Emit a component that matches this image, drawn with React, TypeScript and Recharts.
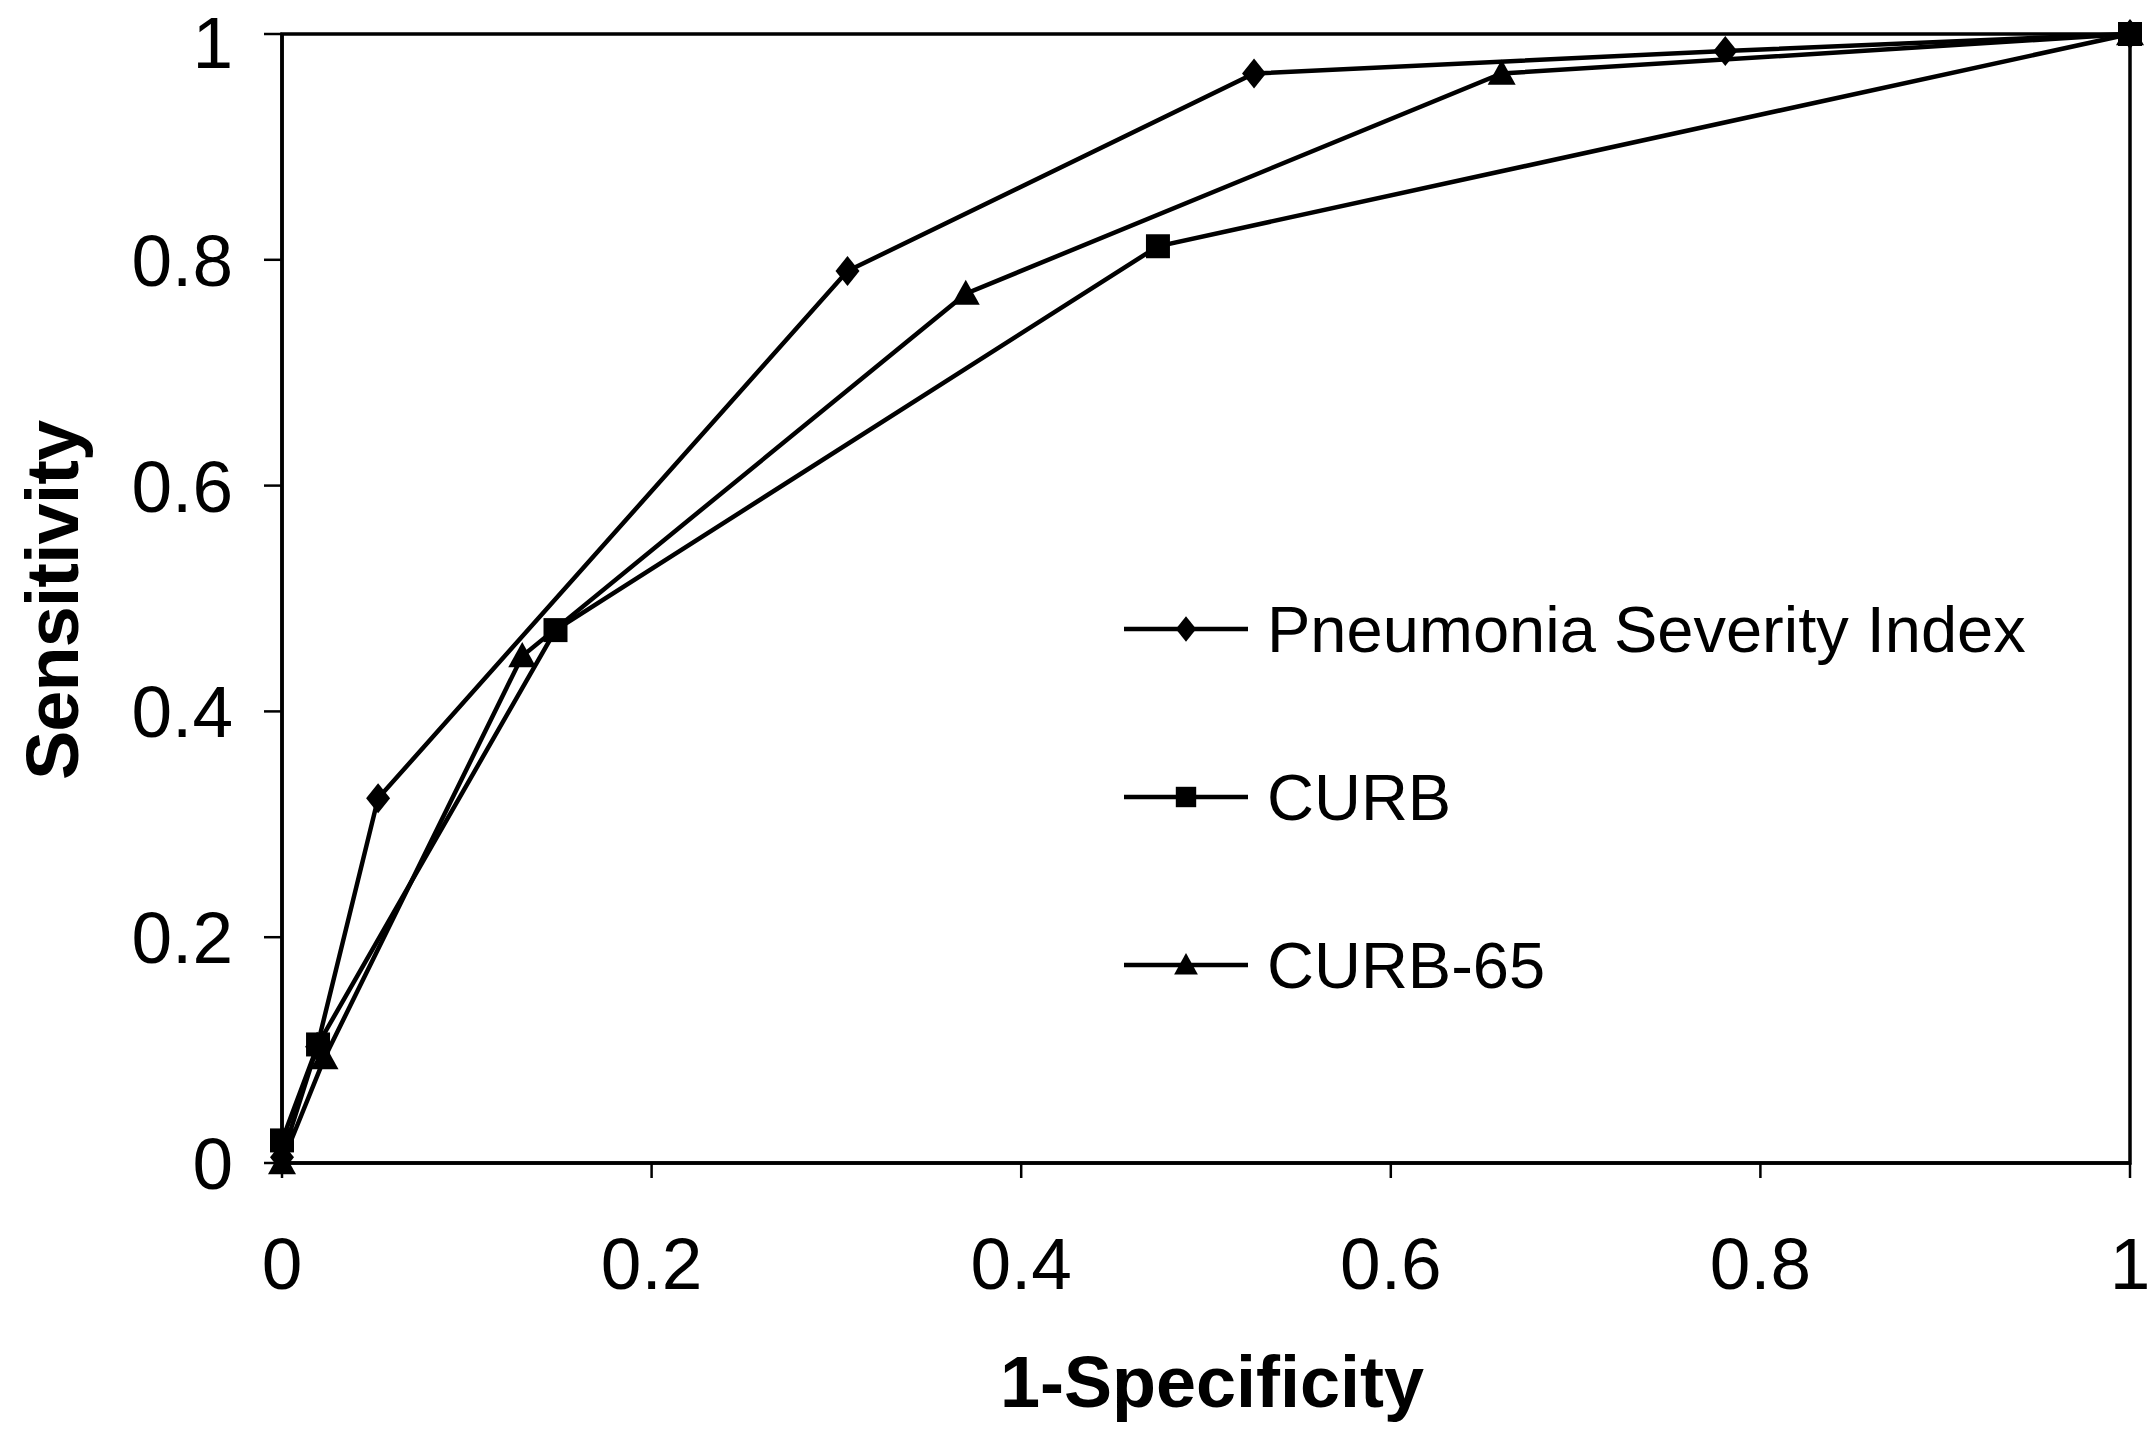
import { Legend, Line, LineChart, ReferenceArea, XAxis, YAxis } from "recharts";

const FONT = "'Liberation Sans', Arial, sans-serif";
const INK = "#000";

const X_TICKS = [0, 0.2, 0.4, 0.6, 0.8, 1];
const Y_TICKS = [0, 0.2, 0.4, 0.6, 0.8, 1];

// Pneumonia Severity Index
const psiX = [0, 0.019, 0.052, 0.306, 0.526, 0.781, 1];
const psiY = [0.005, 0.103, 0.323, 0.79, 0.965, 0.985, 1];
// CURB
const curbX = [0, 0.0195, 0.148, 0.474, 1];
const curbY = [0.02, 0.105, 0.472, 0.812, 1];
// CURB-65
const curb65X = [0, 0.023, 0.13, 0.37, 0.66, 1];
const curb65Y = [0, 0.093, 0.449, 0.77, 0.965, 1];

const toPoints = (xs: number[], ys: number[]) => xs.map((x, i) => ({ x, y: ys[i] }));

const diamondPath = (cx: number, cy: number, w: number, h: number) =>
  `M${cx},${cy - h}L${cx + w},${cy}L${cx},${cy + h}L${cx - w},${cy}Z`;
const squarePath = (cx: number, cy: number, s: number) =>
  `M${cx - s},${cy - s}H${cx + s}V${cy + s}H${cx - s}Z`;
const trianglePath = (cx: number, cy: number, w: number, h: number) =>
  `M${cx},${cy - h}L${cx + w},${cy + h * 0.8}L${cx - w},${cy + h * 0.8}Z`;

const shapes: Record<string, (cx: number, cy: number, k: number) => string> = {
  psi: (cx, cy, k) => diamondPath(cx, cy, 12 * k, 15 * k),
  curb: (cx, cy, k) => squarePath(cx, cy, 12 * k),
  curb65: (cx, cy, k) => trianglePath(cx, cy, 14 * k, 14 * k),
};

const makeDot = (kind: string) => (p: any) => (
  <path key={`${kind}-${p.index}`} d={shapes[kind](p.cx, p.cy, 1)} fill={INK} />
);

const series = [
  { key: "psi", name: "Pneumonia Severity Index", data: toPoints(psiX, psiY) },
  { key: "curb", name: "CURB", data: toPoints(curbX, curbY) },
  { key: "curb65", name: "CURB-65", data: toPoints(curb65X, curb65Y) },
];

const renderLegend = () => (
  <div style={{ fontFamily: FONT }}>
    {series.map((s) => (
      <div key={s.key} style={{ display: "flex", alignItems: "center", height: 168 }}>
        <svg width={124} height={40} style={{ marginRight: 19 }}>
          <line x1={0} y1={20} x2={124} y2={20} stroke={INK} strokeWidth={4.5} />
          <path d={shapes[s.key](62, 20, 0.85)} fill={INK} />
        </svg>
        <span style={{ fontSize: 65, letterSpacing: 0, color: INK }}>{s.name}</span>
      </div>
    ))}
  </div>
);

export default function App() {
  return (
    <div style={{ position: "absolute", left: 0, top: 0, background: "#fff" }}>
      <LineChart width={2155} height={1432} margin={{ top: 34, right: 25, left: 0, bottom: 0 }}>
        <XAxis
          type="number"
          dataKey="x"
          domain={[0, 1]}
          ticks={X_TICKS}
          height={269}
          axisLine={{ stroke: INK, strokeWidth: 3.5 }}
          tickLine={{ stroke: INK, strokeWidth: 2.5 }}
          tickSize={15}
          tickMargin={59}
          tick={{ fill: INK, fontSize: 73, fontFamily: FONT }}
          label={{
            content: ({ viewBox }: any) => (
              <text
                x={viewBox.x + viewBox.width / 2 + 6}
                y={viewBox.y + 244}
                textAnchor="middle"
                fontFamily={FONT}
                fontWeight="bold"
                fontSize={72}
                fill={INK}
              >
                1-Specificity
              </text>
            ),
          }}
        />
        <YAxis
          type="number"
          dataKey="y"
          domain={[0, 1]}
          ticks={Y_TICKS}
          width={282}
          axisLine={{ stroke: INK, strokeWidth: 3.5 }}
          tickLine={{ stroke: INK, strokeWidth: 2.5 }}
          tickSize={18}
          tickMargin={31}
          tick={{ fill: INK, fontSize: 73, fontFamily: FONT }}
          label={{
            content: ({ viewBox }: any) => {
              const cx = viewBox.x + 52;
              const cy = viewBox.y + viewBox.height / 2 + 2;
              return (
                <text
                  x={cx}
                  y={cy}
                  transform={`rotate(-90 ${cx} ${cy})`}
                  textAnchor="middle"
                  dominantBaseline="central"
                  fontFamily={FONT}
                  fontWeight="bold"
                  fontSize={74}
                  letterSpacing={-1}
                  fill={INK}
                >
                  Sensitivity
                </text>
              );
            },
          }}
        />
        <ReferenceArea x1={0} x2={1} y1={0} y2={1} fill="none" stroke={INK} strokeWidth={3.5} ifOverflow="visible" />
        {series.map((s) => (
          <Line
            key={s.key}
            data={s.data}
            dataKey="y"
            name={s.name}
            type="linear"
            stroke={INK}
            strokeWidth={4.5}
            dot={makeDot(s.key)}
            activeDot={false}
            isAnimationActive={false}
          />
        ))}
        <Legend
          layout="horizontal"
          verticalAlign="middle"
          align="center"
          content={renderLegend}
          wrapperStyle={{ left: 1124, top: 545, width: 960 }}
        />
      </LineChart>
    </div>
  );
}
